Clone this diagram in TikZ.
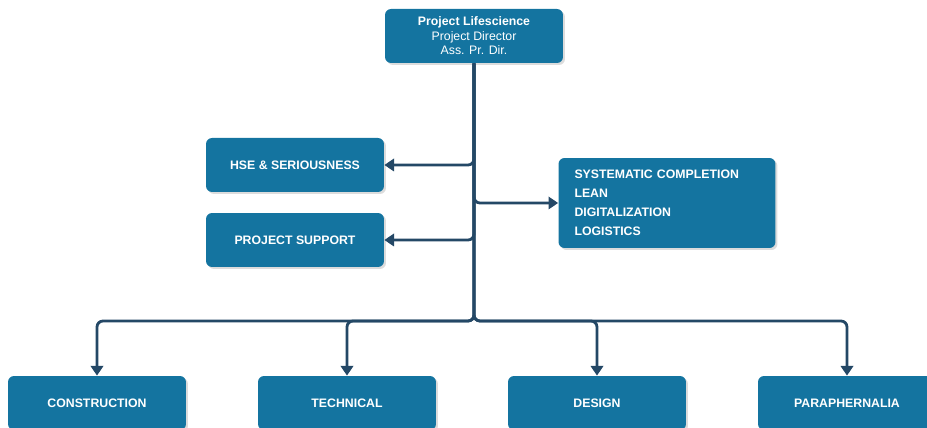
\documentclass[tikz,border=0pt]{standalone}
\usepackage{fontspec}
\setmainfont{Liberation Sans}
\usetikzlibrary{arrows.meta,shadows}
\definecolor{boxblue}{RGB}{20,116,160}
\definecolor{linkblue}{RGB}{36,72,102}
\begin{document}
\begin{tikzpicture}[x=0.02cm,y=-0.02cm,
    unit/.style={fill=boxblue,rounded corners=0.12cm,text=white,align=center,
        font=\fontsize{7}{8.2}\selectfont\bfseries,minimum width=3.56cm,minimum height=1.08cm,
        drop shadow={shadow xshift=0.04cm,shadow yshift=-0.04cm,opacity=0.3,fill=black!45}},
    link/.style={draw=linkblue,line width=1.6pt,rounded corners=0.12cm,
        -{Triangle[length=5.5pt,width=7pt]}}]
    \useasboundingbox (0,0) rectangle (927,428);
    \node[unit] (top) at (474,36) {Project Lifescience\\\mdseries Project Director\\\mdseries Ass. Pr. Dir.};
    \node[unit] (hse) at (295,165) {HSE \& SERIOUSNESS};
    \node[unit] (supp) at (295,240) {PROJECT SUPPORT};
    \node[unit,minimum width=4.34cm,minimum height=1.8cm,text width=3.7cm,align=left,
        font=\fontsize{7}{10.8}\selectfont\bfseries] (focus) at (667,203)
        {SYSTEMATIC COMPLETION\\LEAN\\DIGITALIZATION\\LOGISTICS};
    \node[unit] (cons) at (97,403) {CONSTRUCTION};
    \node[unit] (tech) at (347,403) {TECHNICAL};
    \node[unit] (des) at (597,403) {DESIGN};
    \node[unit] (para) at (847,403) {PARAPHERNALIA};
    \coordinate (split) at (474,321);
    % links
    \draw[link] (top.south) |- (hse.east);
    \draw[link] (top.south) |- (supp.east);
    \draw[link] (top.south) |- (focus.west);
    \foreach \n in {cons,tech,des,para}
        \draw[link] (top.south) -- (split) -| (\n.north);
\end{tikzpicture}
\end{document}
